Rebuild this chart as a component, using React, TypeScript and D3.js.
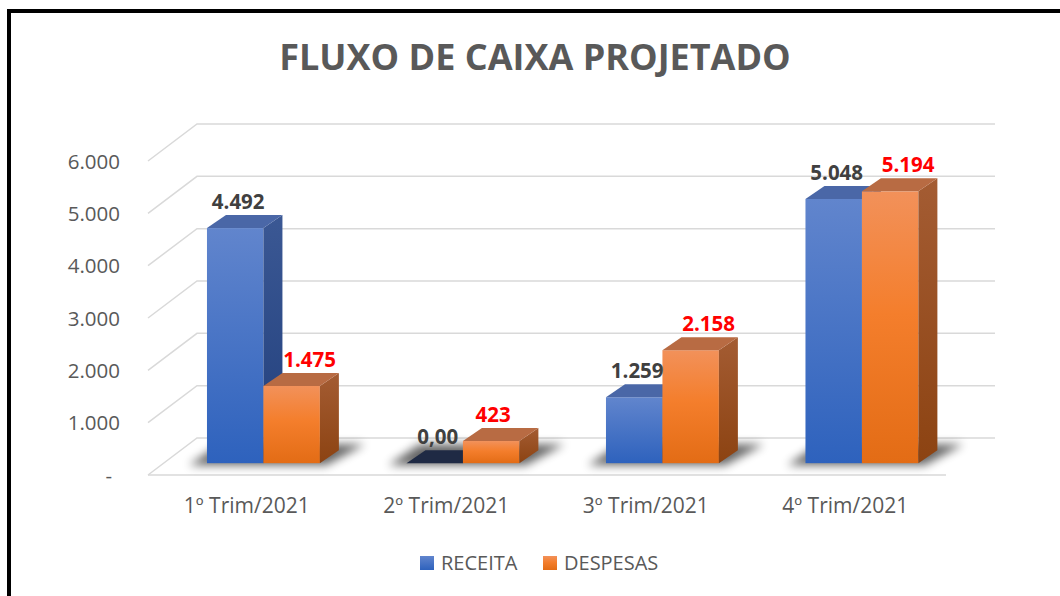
import React from "react";
import * as d3 from "d3";

const categories = ["1º Trim/2021", "2º Trim/2021", "3º Trim/2021", "4º Trim/2021"];
const seriesNames = ["RECEITA", "DESPESAS"];
const receita = [4492, 0, 1259, 5048];
const despesas = [1475, 423, 2158, 5194];
const yTicks = [0, 1000, 2000, 3000, 4000, 5000, 6000];

const W = 1060;
const H = 596;

// floor geometry (front-left corner and depth vector of the 3d box)
const floorLeft = 148;
const floorRight = 946;
const depthX = 49;
const depthY = 37;
const barFrac = 0.32; // where the front face of the bars sits inside the depth
const barDx = 19;
const barDy = 13;

const locale = d3.formatLocale({ decimal: ",", thousands: ".", grouping: [3], currency: ["R$", ""] });
const fmtInt = locale.format(",.0f");
const fmtDec = locale.format(",.2f");

const styles = {
  RECEITA: { front: "gradBlue", side: "gradBlueSide", top: "#4a67a7", zeroTop: "#1f2a44", label: "#404040" },
  DESPESAS: { front: "gradOrange", side: "gradOrangeSide", top: "#b86b43", zeroTop: "#6b3414", label: "#ff0000" },
};
const labelShift = { RECEITA: 3, DESPESAS: 18 };

const App = () => {
  const x = d3
    .scaleBand()
    .domain(categories)
    .range([floorLeft, floorRight])
    .paddingInner(0.434)
    .paddingOuter(0.217);
  const xs = d3.scaleBand().domain(seriesNames).range([0, x.bandwidth()]);
  const y = d3.scaleLinear().domain([0, 6000]).range([475, 161]);

  const offX = depthX * barFrac;
  const offY = depthY * barFrac;
  const base = y(0) - offY;

  const rows = categories.map((c, i) => ({ cat: c, values: [receita[i], despesas[i]] }));

  const pts = (p) => p.map((d) => d.join(",")).join(" ");

  return (
    <div style={{ position: "absolute", left: 0, top: 0 }}>
      <svg width={W} height={H} style={{ display: "block", background: "#fff" }}>
        <defs>
          <linearGradient id="gradBlue" x1="0" y1="0" x2="0" y2="1">
            <stop offset="0%" stopColor="#6185cd" />
            <stop offset="100%" stopColor="#2e62bd" />
          </linearGradient>
          <linearGradient id="gradBlueSide" x1="0" y1="0" x2="0" y2="1">
            <stop offset="0%" stopColor="#3b5894" />
            <stop offset="100%" stopColor="#213f7c" />
          </linearGradient>
          <linearGradient id="gradOrange" x1="0" y1="0" x2="0" y2="1">
            <stop offset="0%" stopColor="#f2915a" />
            <stop offset="45%" stopColor="#f47e2c" />
            <stop offset="100%" stopColor="#e36c15" />
          </linearGradient>
          <linearGradient id="gradOrangeSide" x1="0" y1="0" x2="0" y2="1">
            <stop offset="0%" stopColor="#a45c33" />
            <stop offset="100%" stopColor="#8c4312" />
          </linearGradient>
          <filter id="shadowBlur" x="-30%" y="-100%" width="160%" height="300%">
            <feGaussianBlur stdDeviation="5" />
          </filter>
        </defs>

        {/* frame */}
        <rect x={9} y={11} width={1200} height={800} fill="none" stroke="#000" strokeWidth={4} />

        {/* title */}
        <text
          x={535}
          y={70}
          textAnchor="middle"
          fontFamily="'Open Sans', sans-serif"
          fontWeight="bold"
          fontSize={36}
          fill="#595959"
        >
          FLUXO DE CAIXA PROJETADO
        </text>

        {/* gridlines: side wall diagonal + back wall */}
        {yTicks.map((t) => (
          <polyline
            key={t}
            points={pts([
              [floorLeft, y(t)],
              [floorLeft + depthX, y(t) - depthY],
              [floorRight + depthX, y(t) - depthY],
            ])}
            fill="none"
            stroke="#d9d9d9"
            strokeWidth={1.5}
          />
        ))}
        <line x1={floorLeft} x2={floorRight} y1={y(0)} y2={y(0)} stroke="#d9d9d9" strokeWidth={1.5} />

        {/* y labels */}
        {yTicks.map((t) => (
          <text
            key={t}
            x={t === 0 ? 112 : 120}
            y={y(t) + 7.5}
            textAnchor="end"
            fontFamily="'Open Sans', sans-serif"
            fontSize={20.5}
            fill="#595959"
          >
            {t === 0 ? "-" : fmtInt(t)}
          </text>
        ))}

        {/* shadows on the floor */}
        {rows.map((r) => {
          const x0 = x(r.cat) + offX;
          const x1 = x0 + x.bandwidth();
          return (
            <polygon
              key={"sh" + r.cat}
              points={pts([
                [x0 - 18, base + 2],
                [x1 + 6, base + 2],
                [x1 + barDx + 26, base - barDy - 6],
                [x0 + barDx - 6, base - barDy - 6],
              ])}
              fill="#000"
              opacity={0.6}
              filter="url(#shadowBlur)"
            />
          );
        })}

        {/* bars */}
        {rows.map((r) => (
          <g key={r.cat}>
            {seriesNames.map((s, k) => {
              const v = r.values[k];
              const st = styles[s];
              const bx0 = x(r.cat) + offX + xs(s);
              const bx1 = bx0 + xs.bandwidth();
              const top = y(v) - offY;
              return (
                <g key={s}>
                  {v > 0 && (
                    <rect x={bx0} y={top} width={bx1 - bx0} height={base - top} fill={`url(#${st.front})`} />
                  )}
                  {v > 0 && (
                    <polygon
                      points={pts([
                        [bx1, top],
                        [bx1 + barDx, top - barDy],
                        [bx1 + barDx, base - barDy],
                        [bx1, base],
                      ])}
                      fill={`url(#${st.side})`}
                    />
                  )}
                  <polygon
                    points={pts([
                      [bx0, top],
                      [bx0 + barDx, top - barDy],
                      [bx1 + barDx, top - barDy],
                      [bx1, top],
                    ])}
                    fill={v === 0 ? st.zeroTop : st.top}
                  />
                </g>
              );
            })}
          </g>
        ))}

        {/* data labels */}
        {rows.map((r) =>
          seriesNames.map((s, k) => {
            const v = r.values[k];
            const bx0 = x(r.cat) + offX + xs(s);
            const top = y(v) - offY;
            // short orange bar keeps its label over the face
            const shift = s === "DESPESAS" && v < 1000 ? 2 : labelShift[s];
            return (
              <text
                key={r.cat + s}
                x={bx0 + xs.bandwidth() / 2 + shift}
                y={top - barDy - 6}
                textAnchor="middle"
                fontFamily="'Open Sans', sans-serif"
                fontWeight="bold"
                fontSize={20.5}
                fill={styles[s].label}
              >
                {v === 0 ? fmtDec(v) : fmtInt(v)}
              </text>
            );
          })
        )}

        {/* category labels */}
        {categories.map((c) => (
          <text
            key={c}
            x={x(c) + x.bandwidth() / 2 - 1}
            y={513}
            textAnchor="middle"
            fontFamily="'Open Sans', sans-serif"
            fontSize={21}
            fill="#595959"
          >
            {c}
          </text>
        ))}

        {/* legend */}
        {seriesNames.map((s, k) => {
          const lx = k === 0 ? 420 : 543;
          return (
            <g key={s}>
              <rect x={lx} y={556} width={14} height={14} fill={`url(#${styles[s].front})`} />
              <text
                x={lx + 21}
                y={570}
                fontFamily="'Open Sans', sans-serif"
                fontSize={20}
                fill="#595959"
              >
                {s}
              </text>
            </g>
          );
        })}
      </svg>
    </div>
  );
};

export default App;
